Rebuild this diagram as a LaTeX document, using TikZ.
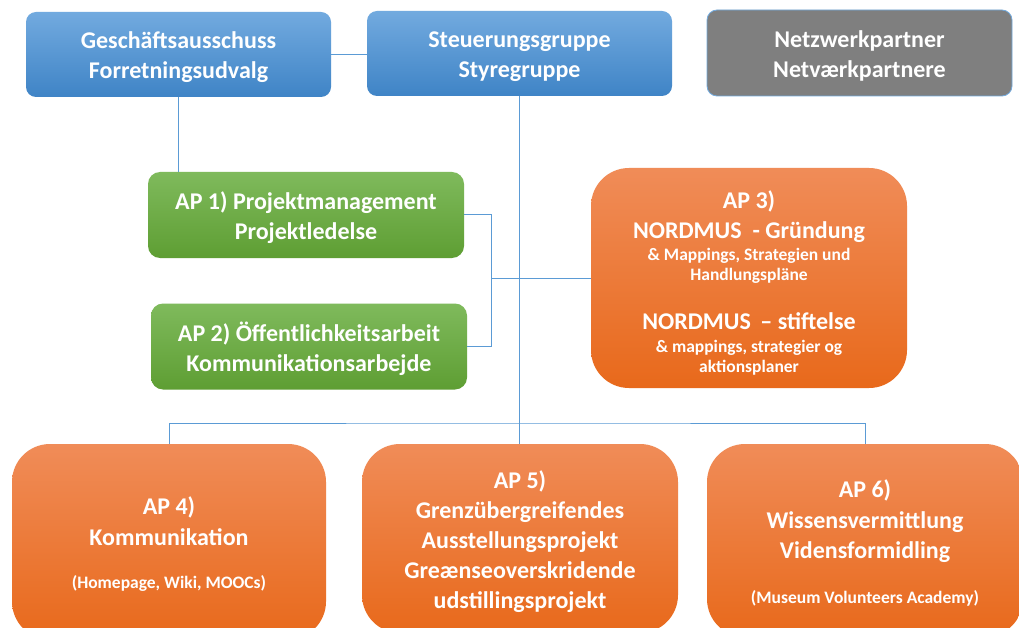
\documentclass[tikz,border=0pt]{standalone}
\usepackage{fontspec}
\setmainfont{Carlito}
\usepackage{tikz}

\definecolor{linkblue}{HTML}{5B9BD5}
\definecolor{bluetop}{HTML}{72AADF}
\definecolor{bluebot}{HTML}{3F84C6}
\definecolor{greentop}{HTML}{7FBA5C}
\definecolor{greenbot}{HTML}{5E9E33}
\definecolor{orangetop}{HTML}{F08C58}
\definecolor{orangebot}{HTML}{E8691B}
\definecolor{partnergray}{HTML}{7F7F7F}

\newcommand{\sm}{\fontsize{17.5}{21}\selectfont}
\newcommand{\firstline}[1][24pt]{\rule{0pt}{#1}}

\tikzset{
  box/.style={inner sep=0pt,align=center,text=white,font=\fontsize{24}{30}\selectfont\bfseries,
    execute at end node={\rule[-5pt]{0pt}{0pt}}},
  bluebox/.style={box,rounded corners=10pt,top color=bluetop,bottom color=bluebot,
    minimum width=305pt,minimum height=85pt},
  greenbox/.style={box,rounded corners=12pt,top color=greentop,bottom color=greenbot,
    minimum width=316pt,minimum height=86pt},
  orangebox/.style={box,rounded corners=38pt,top color=orangetop,bottom color=orangebot},
  link/.style={draw=linkblue,line width=1pt}
}

\begin{document}
\begin{tikzpicture}[x=1pt,y=-1pt]
    \clip (0,0) rectangle (1019,628);
    \fill[white] (0,0) rectangle (1019,628);

    % top row
    \node[bluebox] (GA) at (178.5,54.5) {\firstline Geschäftsausschuss\\Forretningsudvalg};
    \node[bluebox] (SG) at (519.5,53.5) {\firstline Steuerungsgruppe\\Styregruppe};
    \node[box,rounded corners=10pt,fill=partnergray,draw=bluetop,line width=0.8pt,
      minimum width=305pt,minimum height=86pt] (NP) at (859.5,53) {\firstline Netzwerkpartner\\Netværkpartnere};

    % middle row
    \node[greenbox] (AP1) at (306,215) {\firstline AP 1) Projektmanagement\\Projektledelse};
    \node[greenbox] (AP2) at (309,346.5) {\firstline AP 2) Öffentlichkeitsarbeit\\Kommunikationsarbejde};
    \node[orangebox,minimum width=316pt,minimum height=220pt] (AP3) at (749,278)
      {\firstline[29.5pt]AP 3)\\
       NORDMUS\ \ - Gründung\\[-7.5pt]
       \sm \& Mappings, Strategien und\\[-10pt]
       \sm Handlungspläne\\[18.5pt]
       NORDMUS\,\ – stiftelse\\[-6.5pt]
       \sm \& mappings, strategier og\\[-10pt]
       \sm aktionsplaner};

    % bottom row
    \node[orangebox,minimum width=314pt,minimum height=195.5pt] (AP4) at (169,541.75)
      {\firstline AP 4)\\[1pt]Kommunikation\\[13.5pt]\sm (Homepage, Wiki, MOOCs)};
    \node[orangebox,minimum width=316pt,minimum height=189pt] (AP5) at (520,538.5)
      {\firstline AP 5)\\Grenzübergreifendes\\Ausstellungsprojekt\\Greænseoverskridende\\udstillingsprojekt};
    \node[orangebox,minimum width=316pt,minimum height=193pt] (AP6) at (865,540.5)
      {\firstline AP 6)\\[1pt]Wissensvermittlung\\Vidensformidling\\[15pt]\sm (Museum Volunteers Academy)};

    \coordinate (join) at (491,278);
    \coordinate (bus) at (519,423);

    % connectors
    \draw[link] (GA.east) -- (GA.east -| SG.west);
    \draw[link] (GA.south) -- (GA.south |- AP1.north);
    \draw[link] (SG.south) -- (SG.south |- AP5.north);
    \draw[link] (AP1.east) -| (join);
    \draw[link] (AP2.east) -| (join);
    \draw[link] (join) -- (AP3.west);
    \draw[link] (AP4.north) |- (bus) -| (AP6.north);
\end{tikzpicture}
\end{document}
